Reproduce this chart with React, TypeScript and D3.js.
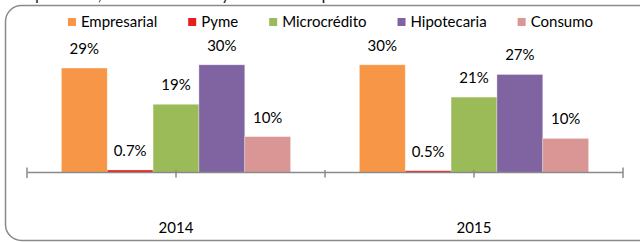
import React, { useEffect, useRef } from 'react';
import * as d3 from 'd3';

// data (percent of portfolio)
const years = ['2014', '2015'];
const series = ['Empresarial', 'Pyme', 'Microcrédito', 'Hipotecaria', 'Consumo'];
const colors = ['#F79646', '#E8201D', '#9BBB59', '#8064A2', '#D99694'];
const values2014 = [29.1, 0.7, 19, 30, 10];
const values2015 = [30, 0.5, 21, 27.3, 9.5];
const topNote = 'empresarial, el microcrédito y el crédito hipotecario';

const FONT = 'Lato, "Open Sans", sans-serif';

const App = () => {
  const ref = useRef<SVGSVGElement>(null);

  useEffect(() => {
    const svg = d3.select(ref.current);
    svg.selectAll('*').remove();

    // sentence from the page above, cut off by the top edge
    svg.append('text')
      .attr('x', 12)
      .attr('y', 0)
      .attr('font-family', FONT)
      .attr('font-size', 17)
      .attr('fill', '#222')
      .text(topNote);

    // rounded frame, right side runs past the window
    svg.append('rect')
      .attr('x', 5.5)
      .attr('y', 5.5)
      .attr('width', 660)
      .attr('height', 235)
      .attr('rx', 16)
      .attr('fill', '#fff')
      .attr('stroke', '#8a8a8a')
      .attr('stroke-width', 1.5);

    const rows = [values2014, values2015];
    const baseY = 172.5;

    const x0 = d3.scaleBand().domain(years).range([27, 623]);
    const x1 = d3.scaleBand().domain(series)
      .range([0, x0.bandwidth()])
      .paddingInner(0)
      .paddingOuter(0.75);
    const y = d3.scaleLinear().domain([0, 35]).range([baseY, baseY - 35 * 3.59]);
    const color = d3.scaleOrdinal<string, string>().domain(series).range(colors);
    const fmt = (v: number) => (v < 1 ? d3.format('.1f')(v) : d3.format('.0f')(v)) + '%';

    // bars + labels
    years.forEach((yr, i) => {
      const g = svg.append('g').attr('transform', `translate(${x0(yr)},0)`);
      const data = series.map((s, j) => ({ s, v: rows[i][j] }));
      g.selectAll('rect')
        .data(data)
        .join('rect')
        .attr('x', d => x1(d.s)!)
        .attr('y', d => y(d.v))
        .attr('width', x1.bandwidth())
        .attr('height', d => baseY - y(d.v))
        .attr('fill', d => color(d.s))
        .attr('stroke', '#fff')
        .attr('stroke-opacity', 0.4)
        .attr('stroke-width', 0.75);
      g.selectAll('text')
        .data(data)
        .join('text')
        .attr('x', d => x1(d.s)! + x1.bandwidth() / 2)
        .attr('y', d => y(d.v) - 14)
        .attr('text-anchor', 'middle')
        .attr('font-family', FONT)
        .attr('font-size', 15)
        .attr('fill', '#000')
        .text(d => fmt(d.v));
    });

    // category axis
    const axisColor = '#8a8a8a';
    const [r0, r1] = x0.range();
    svg.append('line')
      .attr('x1', r0).attr('x2', r1)
      .attr('y1', baseY).attr('y2', baseY)
      .attr('stroke', axisColor).attr('stroke-width', 1.5);
    const edgeTicks = [r0, r1];
    const innerTicks = [
      ...years.map(yr => x0(yr)! + x0.bandwidth() / 2),
      ...years.slice(1).map(yr => x0(yr)!),
    ];
    svg.selectAll('line.edge')
      .data(edgeTicks)
      .join('line')
      .attr('class', 'edge')
      .attr('x1', d => d).attr('x2', d => d)
      .attr('y1', baseY - 5).attr('y2', baseY + 5.5)
      .attr('stroke', axisColor).attr('stroke-width', 1.5);
    svg.selectAll('line.inner')
      .data(innerTicks)
      .join('line')
      .attr('class', 'inner')
      .attr('x1', d => d).attr('x2', d => d)
      .attr('y1', baseY - 2.5).attr('y2', baseY + 5)
      .attr('stroke', axisColor).attr('stroke-width', 1.5);

    svg.selectAll('text.year')
      .data(years)
      .join('text')
      .attr('class', 'year')
      .attr('x', d => x0(d)! + x0.bandwidth() / 2)
      .attr('y', 233)
      .attr('text-anchor', 'middle')
      .attr('font-family', FONT)
      .attr('font-size', 15)
      .attr('fill', '#000')
      .text(d => d);

    // legend, laid out from measured text widths and centred
    const legend = svg.append('g');
    const items = legend.selectAll('g')
      .data(series)
      .join('g');
    items.append('rect')
      .attr('y', 18)
      .attr('width', 8)
      .attr('height', 8)
      .attr('fill', d => color(d));
    items.append('text')
      .attr('x', 13)
      .attr('y', 26.5)
      .attr('font-family', FONT)
      .attr('font-size', 15)
      .attr('fill', '#000')
      .text(d => d);
    const gap = 31;
    let cursor = 0;
    items.each(function () {
      const w = (d3.select(this).select('text').node() as SVGTextElement).getComputedTextLength();
      d3.select(this).attr('transform', `translate(${cursor},0)`);
      cursor += 13 + w + gap;
    });
    const total = cursor - gap;
    legend.attr('transform', `translate(${330.5 - total / 2},0)`);
  }, []);

  return (
    <div style={{ position: 'fixed', left: 0, top: 0, width: 640, height: 242, background: '#fff' }}>
      <svg ref={ref} width={640} height={242} style={{ display: 'block' }} />
    </div>
  );
};

export default App;
